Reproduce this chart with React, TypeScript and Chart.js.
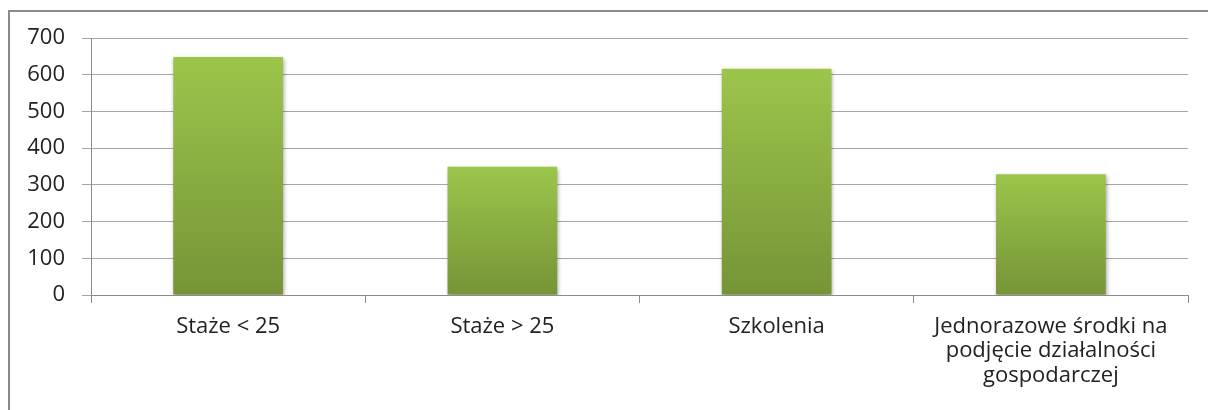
import React, { useEffect, useRef } from "react";
import { Chart, registerables } from "chart.js";

Chart.register(...registerables);

const categories: (string | string[])[] = [
  "Staże < 25",
  "Staże > 25",
  "Szkolenia",
  ["Jednorazowe środki na", "podjęcie działalności", "gospodarczej"],
];
const values: number[] = [648, 349, 616, 329];
const yTicks: number[] = [0, 100, 200, 300, 400, 500, 600, 700];

const FONT = "'Open Sans', sans-serif";

const shadowPlugin = {
  id: "barShadow",
  beforeDatasetsDraw(chart: any) {
    const c = chart.ctx;
    c.save();
    c.shadowColor = "rgba(0,0,0,0.35)";
    c.shadowBlur = 4;
    c.shadowOffsetX = 1;
    c.shadowOffsetY = 2;
  },
  afterDatasetsDraw(chart: any) {
    chart.ctx.restore();
  },
};

export default function App() {
  const ref = useRef<HTMLCanvasElement | null>(null);

  useEffect(() => {
    document.documentElement.style.overflow = "hidden";
    const canvas = ref.current;
    if (!canvas) return;
    const chart = new Chart(canvas, {
      type: "bar",
      data: {
        labels: categories,
        datasets: [
          {
            data: values,
            barPercentage: 0.4,
            categoryPercentage: 1,
            borderWidth: 0,
            backgroundColor: (ctx: any) => {
              const ch = ctx.chart;
              if (!ch.chartArea || !ch.scales.y) return "#8aae43";
              const ys = ch.scales.y;
              const top = ys.getPixelForValue(ctx.raw);
              const bottom = ys.getPixelForValue(0);
              const g = ch.ctx.createLinearGradient(0, top, 0, bottom);
              g.addColorStop(0, "#9cc54b");
              g.addColorStop(1, "#769437");
              return g;
            },
          },
        ],
      },
      options: {
        animation: false,
        responsive: false,
        maintainAspectRatio: false,
        layout: { padding: { top: 26, right: 20, left: 0, bottom: 0 } },
        plugins: {
          legend: { display: false },
          tooltip: { enabled: false },
        },
        scales: {
          x: {
            offset: true,
            grid: {
              offset: true,
              drawOnChartArea: false,
              drawTicks: true,
              tickLength: 8,
              color: "#8c8c8c",
            },
            border: { display: true, color: "#8c8c8c", width: 1 },
            ticks: {
              color: "#222",
              padding: 11,
              maxRotation: 0,
              autoSkip: false,
              font: { family: FONT, size: 22, lineHeight: 1.12 },
            },
            afterFit: (scale: any) => {
              scale.height = 107;
            },
          },
          y: {
            min: 0,
            max: 700,
            afterBuildTicks: (scale: any) => {
              scale.ticks = yTicks.map((v) => ({ value: v }));
            },
            grid: {
              color: "#a6a6a6",
              lineWidth: 1,
              drawTicks: true,
              tickLength: 9,
            },
            border: { display: true, color: "#8c8c8c", width: 1 },
            ticks: {
              color: "#222",
              padding: 17,
              font: { family: FONT, size: 22 },
            },
            afterFit: (scale: any) => {
              scale.width = 81;
              scale.paddingTop = 0;
              scale.paddingBottom = 0;
            },
          },
        },
      },
      plugins: [shadowPlugin],
    });
    return () => chart.destroy();
  }, []);

  return (
    <div
      style={{
        position: "fixed",
        left: 8,
        top: 10,
        width: 1200,
        height: 400,
        boxSizing: "border-box",
        borderTop: "2px solid #8a8a8a",
        borderLeft: "2px solid #8a8a8a",
        background: "#fff",
        overflow: "hidden",
      }}
    >
      <canvas ref={ref} width={1198} height={390} style={{ display: "block" }} />
    </div>
  );
}
